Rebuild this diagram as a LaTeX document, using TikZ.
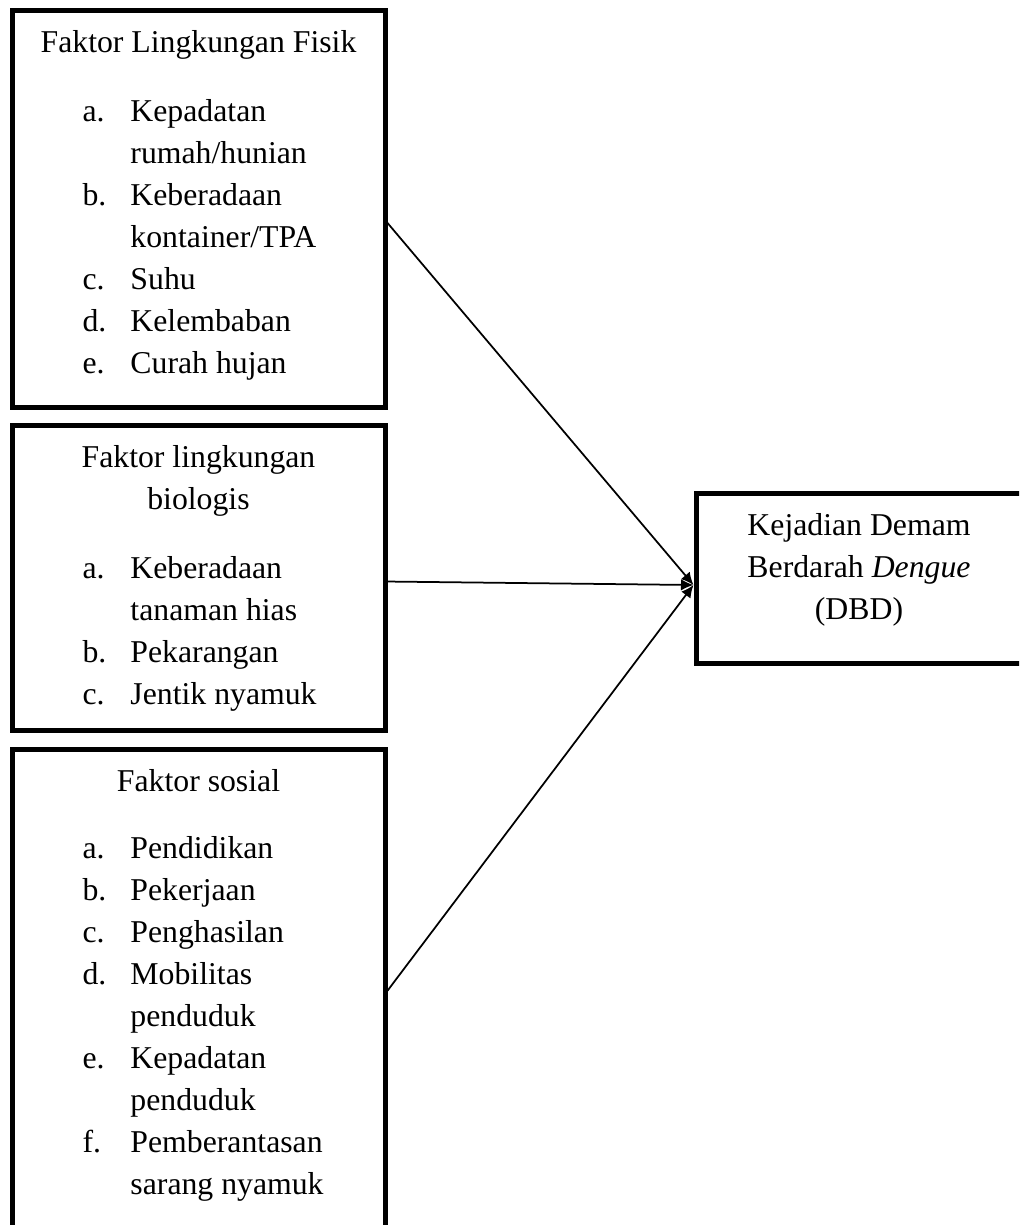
\documentclass[tikz,border=0pt]{standalone}
\usepackage{fontspec}
\setmainfont{Liberation Serif}
\usetikzlibrary{arrows.meta,positioning}

\begin{document}
\begin{tikzpicture}[
  node distance=7.4pt,
  box/.style={draw, line width=2pt, outer sep=0pt, inner sep=0pt,
    minimum width=149.2pt},
  judul/.style={anchor=base, inner sep=0pt, font=\fontsize{12.7pt}{16.8pt}\selectfont},
  daftar/.style={anchor=base west, inner sep=0pt, font=\fontsize{12.7pt}{16.8pt}\selectfont},
  flow/.style={-{Latex[length=5pt,width=4.6pt]}, line width=0.7pt}
]
\path[use as bounding box, clip] (0,0) rectangle (407.6pt,-490pt);

% kotak
\node[box, minimum height=158.8pt, anchor=north west] (fisik) at (4.8pt,-4pt) {};
\node[box, minimum height=122pt, below=of fisik] (biologis) {};
\node[box, minimum height=196pt, below=of biologis] (sosial) {};
\node[box, minimum width=130.4pt, minimum height=68pt, right=124.4pt of biologis] (dbd) {};

% isi kotak
\node[judul] (fisikJudul) at ([yshift=-16.8pt]fisik.north) {Faktor Lingkungan Fisik};
\node[daftar] (fisikIsi) at ([xshift=28pt, yshift=-44.4pt]fisik.north west) {%
  \begin{tabular}[t]{@{}p{19.2pt}@{}l@{}}
  a. & Kepadatan\\
     & rumah/hunian\\
  b. & Keberadaan\\
     & kontainer/TPA\\
  c. & Suhu\\
  d. & Kelembaban\\
  e. & Curah hujan
  \end{tabular}};

\node[judul] (biologisJudul) at ([yshift=-16.8pt]biologis.north) {%
  \begin{tabular}[t]{@{}c@{}}Faktor lingkungan\\biologis\end{tabular}};
\node[daftar] (biologisIsi) at ([xshift=28pt, yshift=-61.2pt]biologis.north west) {%
  \begin{tabular}[t]{@{}p{19.2pt}@{}l@{}}
  a. & Keberadaan\\
     & tanaman hias\\
  b. & Pekarangan\\
  c. & Jentik nyamuk
  \end{tabular}};

\node[judul] (sosialJudul) at ([yshift=-16.8pt]sosial.north) {Faktor sosial};
\node[daftar] (sosialIsi) at ([xshift=28pt, yshift=-43.8pt]sosial.north west) {%
  \begin{tabular}[t]{@{}p{19.2pt}@{}l@{}}
  a. & Pendidikan\\
  b. & Pekerjaan\\
  c. & Penghasilan\\
  d. & Mobilitas\\
     & penduduk\\
  e. & Kepadatan\\
     & penduduk\\
  f. & Pemberantasan\\
     & sarang nyamuk
  \end{tabular}};

\node[judul] (dbdJudul) at ([yshift=-16.8pt]dbd.north) {%
  \begin{tabular}[t]{@{}c@{}}Kejadian Demam\\Berdarah \textit{Dengue}\\(DBD)\end{tabular}};

% panah
\coordinate (tuju) at ([xshift=-1pt, yshift=-2.8pt]dbd.west);
\draw[flow] ([yshift=-4.6pt]fisik.east) -- (tuju);
\draw[flow] ([yshift=-1.4pt]biologis.east) -- (tuju);
\draw[flow] (sosial.east) -- (tuju);
\end{tikzpicture}
\end{document}
